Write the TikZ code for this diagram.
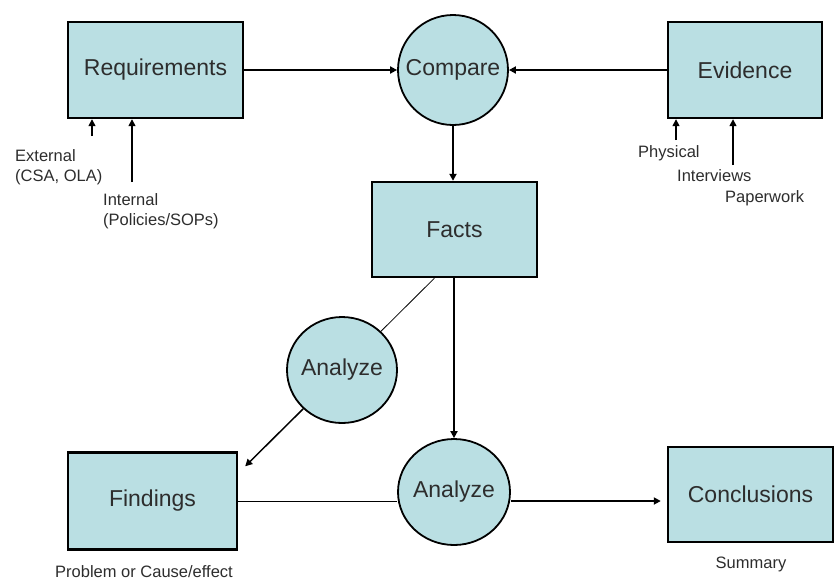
\documentclass[tikz,border=0pt]{standalone}
\usepackage{fontspec}
\setmainfont{Liberation Sans}
\usetikzlibrary{shapes.geometric,arrows.meta,calc}
\definecolor{boxfill}{RGB}{186,223,227}
\definecolor{txt}{RGB}{45,45,45}
\begin{document}
\begin{tikzpicture}[x=1pt,y=-1pt,
  box/.style={draw=black,line width=2.4pt,fill=boxfill,rectangle,inner sep=0pt,text=txt,font=\fontsize{23}{26}\selectfont},
  circ/.style={draw=black,line width=1.8pt,fill=boxfill,ellipse,inner xsep=-12pt,inner ysep=0pt,text=txt,font=\fontsize{23}{26}\selectfont},
  lbl/.style={inner sep=0pt,text=txt,font=\fontsize{16.5}{20}\selectfont,align=left},
  arr/.style={line width=1.8pt,-{Triangle[length=7pt,width=7pt]}},
  thin/.style={line width=0.8pt}]
\useasboundingbox (0,0) rectangle (840,582);
% boxes
\node[box,minimum width=175pt,minimum height=96pt] (req) at (155.5,70) {Requirements};
\node[box,minimum width=154pt,minimum height=96pt] (evi) at (745,70) {Evidence};
\node[box,minimum width=165pt,minimum height=95pt] (facts) at (454.5,229.5) {Facts};
\node[box,minimum width=169pt,minimum height=97pt] (find) at (152.5,501) {Findings};
\node[box,minimum width=165pt,minimum height=95pt] (conc) at (750.5,494.5) {Conclusions};
% circles
\node[circ,minimum width=110pt,minimum height=110pt] (cmp) at (453,70) {Compare};
\node[circ,minimum width=110pt,minimum height=106pt] (an1) at (342,370) {Analyze};
\node[circ,minimum width=112pt,minimum height=106pt] (an2) at (454,492) {Analyze};
% main connectors
\draw[arr] (req) -- (cmp);
\draw[arr] (evi) -- (cmp);
\draw[arr] (cmp.south) -- (cmp.south |- facts.north);
\draw[arr] (an2.north |- facts.south) -- (an2.north);
\coordinate (fbl) at ($(facts.south west)!0.38!(facts.south east)$);
\draw[thin] (fbl) -- (an1);
\coordinate (findtip) at ($(find.north east)+(7,15)$);
\draw[arr,line width=1.5pt] (an1.225) -- (findtip);
\draw[thin] (find.east) -- (find.east -| an2.west);
\draw[arr,line width=2.6pt,shorten >=6pt] (an2.east |- find.east) -- (conc.west |- find.east);
% input arrows
\coordinate (extT) at (92,136);
\coordinate (intT) at (132,182);
\coordinate (phyT) at (676,140);
\coordinate (itvT) at (733,165);
\draw[arr,line width=1.5pt] (extT) -- (extT |- req.south);
\draw[arr,line width=1.5pt] (intT) -- (intT |- req.south);
\draw[arr,line width=1.5pt] (phyT) -- (phyT |- evi.south);
\draw[arr,line width=1.5pt] (itvT) -- (itvT |- evi.south);
% labels
\node[lbl,anchor=west] (ext) at (15,167) {External\\(CSA, OLA)};
\node[lbl,anchor=west] (int) at (103,211) {Internal\\(Policies/SOPs)};
\node[lbl,anchor=west] (phy) at (638,153) {Physical};
\node[lbl,anchor=west] (itv) at (677,176) {Interviews};
\node[lbl,anchor=west] (pap) at (725,198) {Paperwork};
\node[lbl,anchor=west] (prob) at (55,572) {Problem or Cause/effect};
\node[lbl] (summ) at (751,564) {Summary};
\end{tikzpicture}
\end{document}
